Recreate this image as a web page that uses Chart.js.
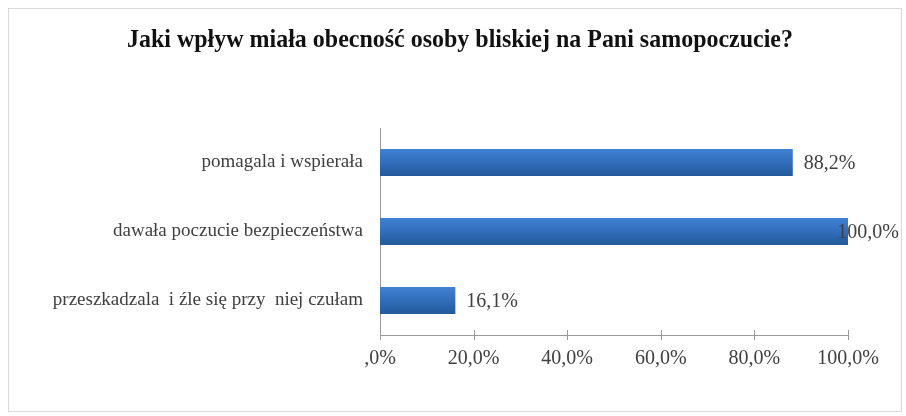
<!DOCTYPE html>
<html>
<head>
<meta charset="utf-8">
<script src="https://cdn.jsdelivr.net/npm/chart.js@4"></script>
<style>
  html, body { margin: 0; padding: 0; background: #fff; }
  #box { width: 906px; height: 416px; }
</style>
</head>
<body>
<div id="box"><canvas id="wykres" width="906" height="416"></canvas></div>
<script>
const TYTUL = "Jaki wpływ miała obecność osoby bliskiej na Pani samopoczucie?";
const kategorie = [
    "pomagala i wspierała",
    "dawała poczucie bezpieczeństwa",
    "przeszkadzala  i źle się przy  niej czułam"
];
const wartosci = [88.2, 100.0, 16.1];
const etykietyWartosci = ["88,2%", "100,0%", "16,1%"];
const etykietyOsi = [",0%", "20,0%", "40,0%", "60,0%", "80,0%", "100,0%"];

const SERIF = "'Liberation Serif', 'DejaVu Serif', serif";

// ramka wokół całego wykresu i tytuł (wąski, pogrubiony)
const ramka = {
    id: 'ramka',
    beforeDraw(chart) {
        const ctx = chart.ctx;
        ctx.save();
        ctx.strokeStyle = '#d9d9d9';
        ctx.lineWidth = 1;
        ctx.strokeRect(8.5, 8.5, 893, 403);

        ctx.font = "bold 26px " + SERIF;
        ctx.fillStyle = '#111';
        ctx.textAlign = 'center';
        ctx.textBaseline = 'alphabetic';
        const w = ctx.measureText(TYTUL).width;
        const sx = 666 / w;
        ctx.translate(460, 47);
        ctx.scale(sx, 1);
        ctx.fillText(TYTUL, 0, 0);
        ctx.restore();
    }
};

// kreski podziałki przecinające oś X i podpisy wartości przy słupkach
const dodatki = {
    id: 'dodatki',
    afterDatasetsDraw(chart) {
        const ctx = chart.ctx;
        const x = chart.scales.x;
        const y = chart.scales.y;
        ctx.save();
        ctx.strokeStyle = '#9a9a9a';
        ctx.lineWidth = 1;
        x.ticks.forEach((t, i) => {
            const px = Math.round(x.getPixelForTick(i)) + 0.5;
            ctx.beginPath();
            ctx.moveTo(px, y.bottom - 5);
            ctx.lineTo(px, y.bottom + 5);
            ctx.stroke();
        });

        ctx.font = "20px " + SERIF;
        ctx.fillStyle = '#404040';
        ctx.textBaseline = 'middle';
        const meta = chart.getDatasetMeta(0);
        meta.data.forEach((bar, i) => {
            const txt = etykietyWartosci[i];
            const w = ctx.measureText(txt).width;
            let px = bar.x + 11;
            if (px + w > 899) px = 899 - w;
            ctx.fillText(txt, px, bar.y + 1);
        });
        ctx.restore();
    }
};

// słupki z lekkim pionowym cieniowaniem
function kolorSlupka(c) {
    const yScale = c.chart.scales.y;
    if (!c.chart.chartArea || !yScale) return '#2f68b4';
    const cy = yScale.getPixelForValue(c.dataIndex);
    if (!Number.isFinite(cy)) return '#2f68b4';
    const g = c.chart.ctx.createLinearGradient(0, cy - 14, 0, cy + 14);
    g.addColorStop(0, '#4282d2');
    g.addColorStop(0.45, '#3270bf');
    g.addColorStop(1, '#235898');
    return g;
}

new Chart(document.getElementById('wykres'), {
    type: 'bar',
    data: {
        labels: kategorie,
        datasets: [{
            data: wartosci,
            backgroundColor: kolorSlupka,
            borderWidth: 0,
            barPercentage: 0.78,
            categoryPercentage: 0.5
        }]
    },
    options: {
        indexAxis: 'y',
        responsive: false,
        animation: false,
        layout: { padding: { top: 128, right: 58, bottom: 0, left: 0 } },
        plugins: {
            legend: { display: false },
            tooltip: { enabled: false },
            title: { display: false }
        },
        scales: {
            x: {
                min: 0,
                max: 100,
                ticks: {
                    stepSize: 20,
                    padding: 12,
                    color: '#404040',
                    font: { family: SERIF, size: 20 },
                    callback: (v, i) => etykietyOsi[i]
                },
                grid: { display: false, drawTicks: false },
                border: { display: true, color: '#9a9a9a' },
                afterFit(s) { s.height = 81; }
            },
            y: {
                ticks: {
                    padding: 17,
                    color: '#404040',
                    font: { family: SERIF, size: 19 }
                },
                grid: { display: false, drawTicks: false },
                border: { display: true, color: '#9a9a9a' },
                afterFit(s) { s.width = 380; }
            }
        }
    },
    plugins: [ramka, dodatki]
});
</script>
</body>
</html>
